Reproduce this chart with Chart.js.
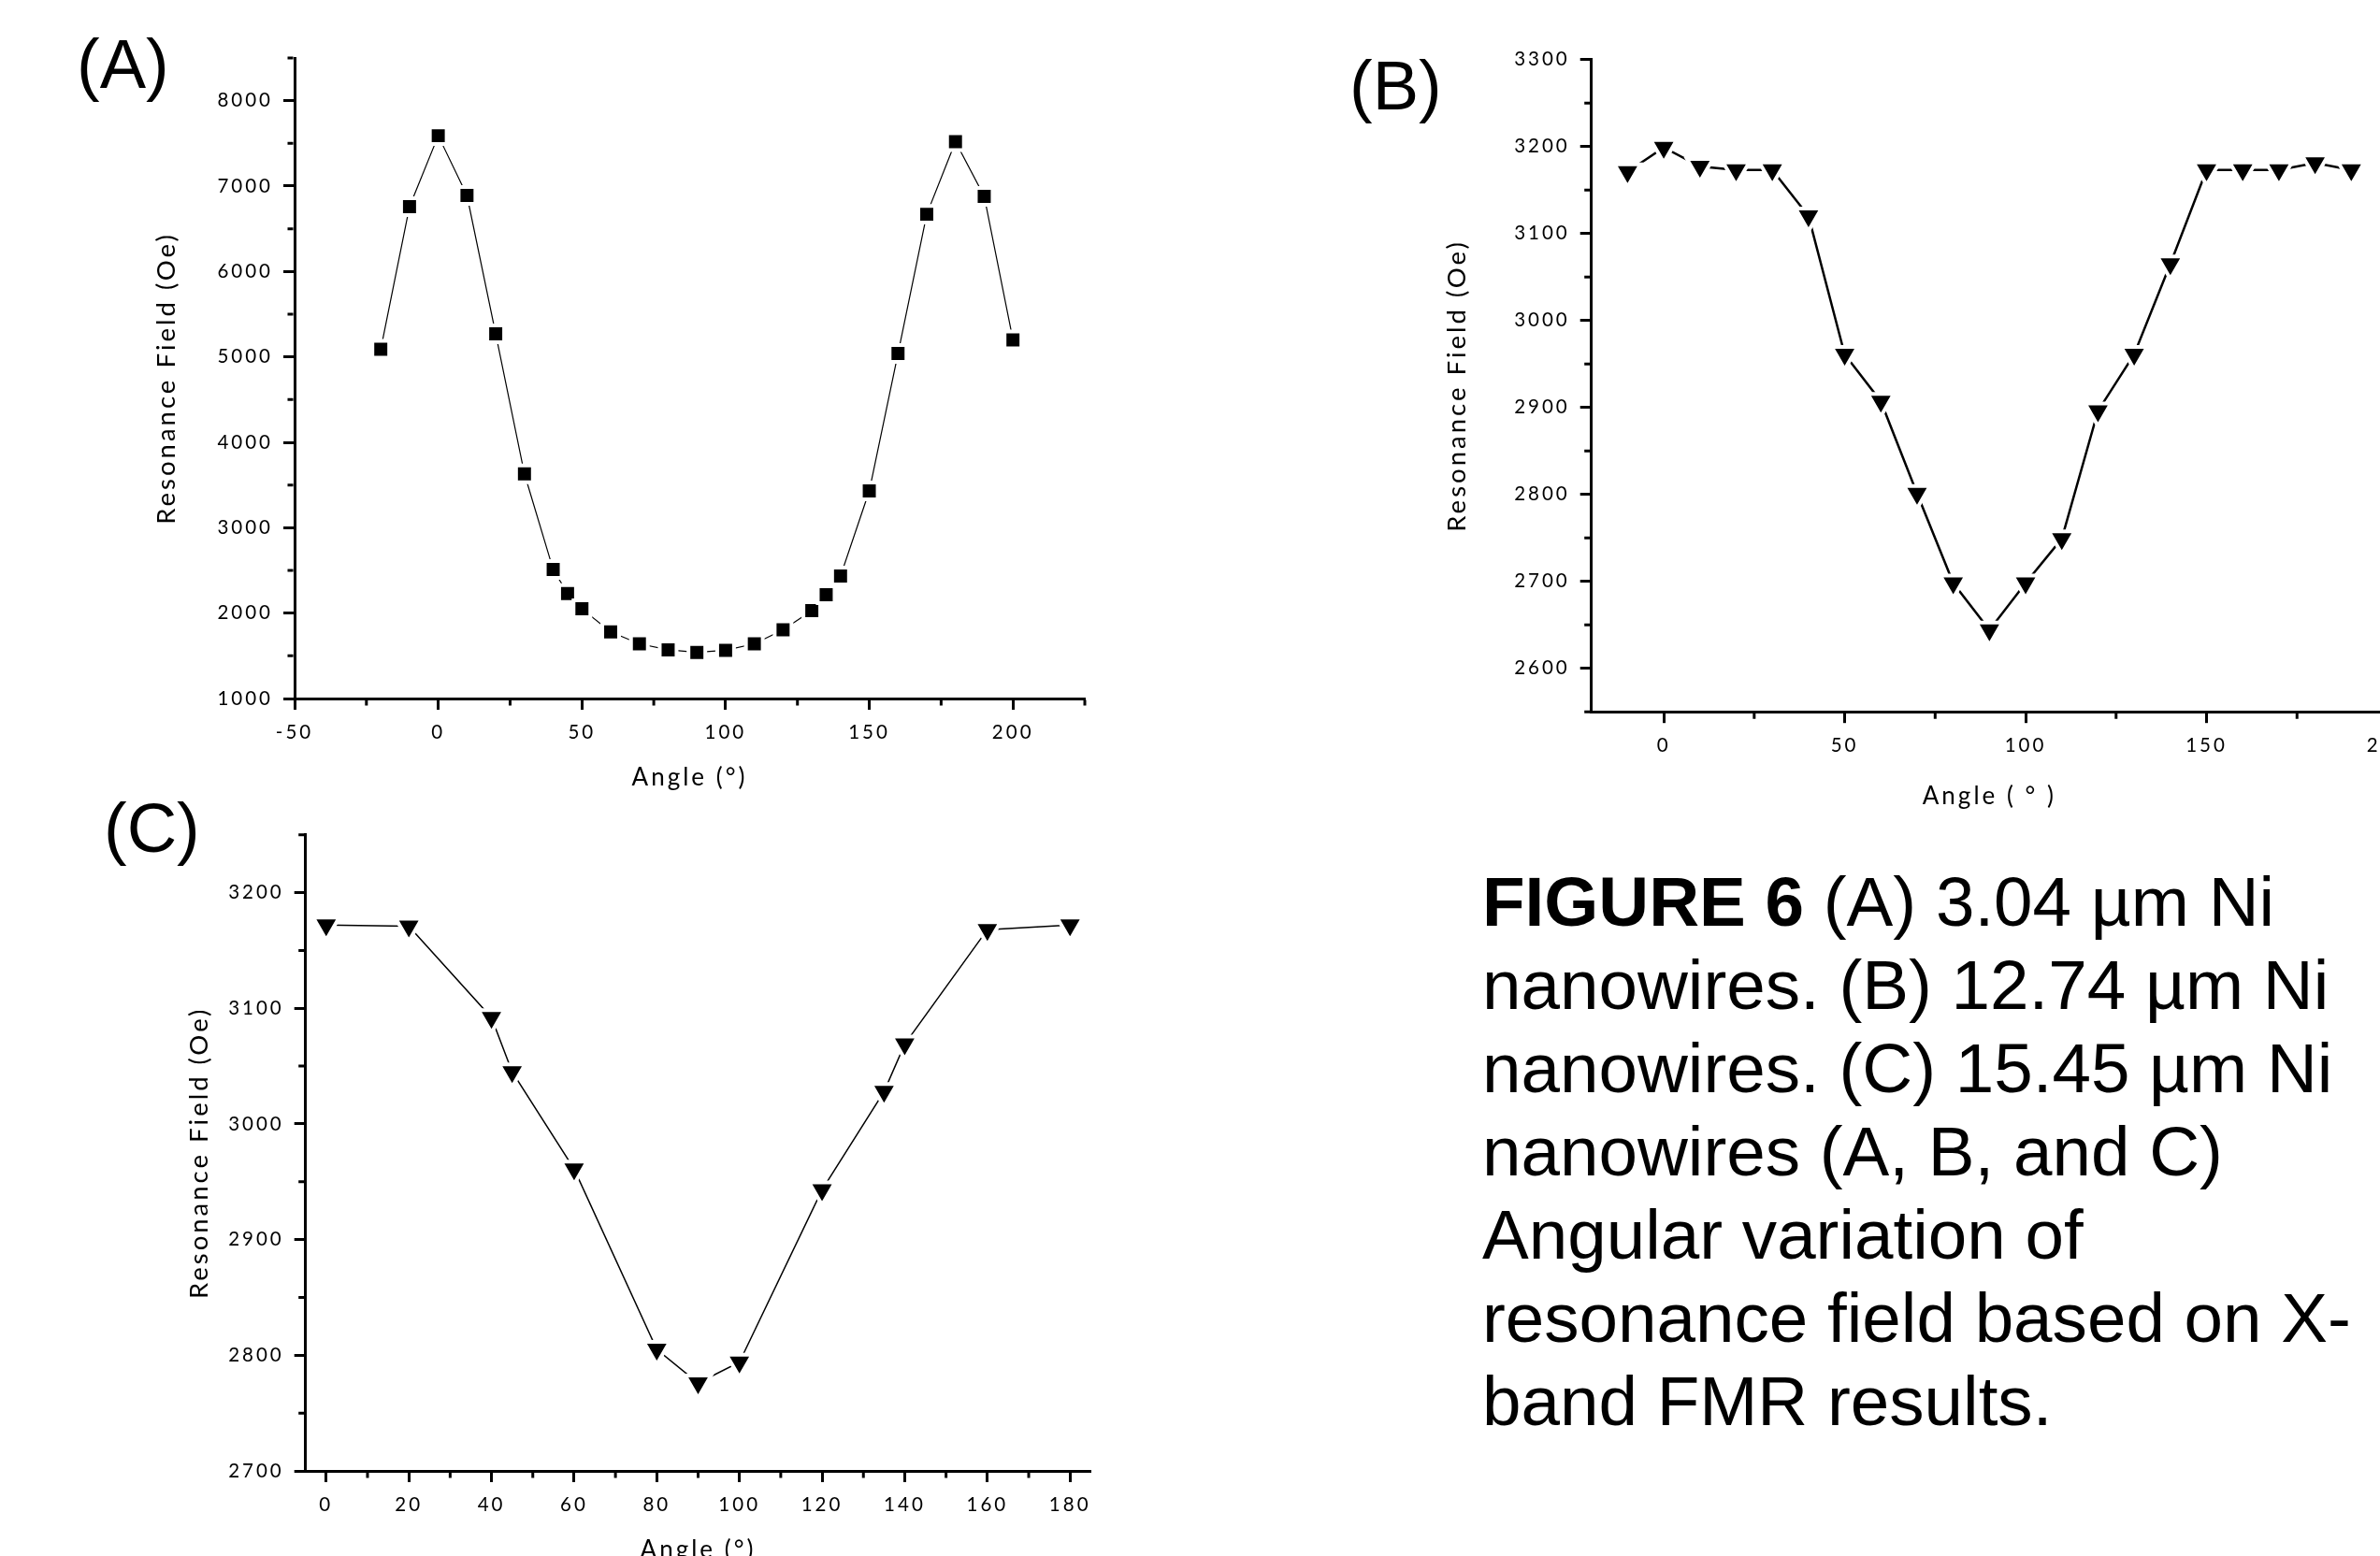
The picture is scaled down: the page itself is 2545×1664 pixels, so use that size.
<!DOCTYPE html>
<html>
<head>
<meta charset="utf-8">
<title>FMR resonance field vs angle</title>
<script src="https://cdn.jsdelivr.net/npm/chart.js@4.4.0/dist/chart.umd.min.js"></script>
<style>
  html, body { margin: 0; padding: 0; background: #fff; overflow: hidden; }
  #page { position: relative; width: 2545px; height: 1664px; overflow: hidden; background: #fff; }
  canvas { position: absolute; left: 0; top: 0; }
  .tag, #caption {
    position: absolute;
    font-family: "Liberation Sans", Arial, sans-serif;
    font-size: 74px;
    line-height: 89px;
    color: #000;
    white-space: nowrap;
  }
  #caption { font-size: 74.6px; }
</style>
</head>
<body>
<div id="page">
  <canvas id="chartA" width="2600" height="1700"></canvas>
  <canvas id="chartB" width="2600" height="1700"></canvas>
  <canvas id="chartC" width="2600" height="1700"></canvas>

  <div class="tag" style="left:82px; top:24px;">(A)</div>
  <div class="tag" style="left:1443px; top:47px;">(B)</div>
  <div class="tag" style="left:111px; top:841px;">(C)</div>

  <div id="caption" style="left:1585px; top:920px;"><b>FIGURE 6</b> (A) 3.04 µm Ni<br>nanowires. (B) 12.74 µm Ni<br>nanowires. (C) 15.45 µm Ni<br>nanowires (A, B, and C)<br>Angular variation of<br>resonance field based on X-<br>band FMR results.</div>
</div>

<script>
// (A) 3.04 µm wires
const anglesA = [-20, -10, 0, 10, 20, 30, 40, 45, 50, 60, 70, 80, 90, 100, 110, 120, 130, 135, 140, 150, 160, 170, 180, 190, 200];
const fieldA = [5090, 6760, 7590, 6890, 5270, 3630, 2510, 2230, 2050, 1780, 1640, 1570, 1540, 1565, 1640, 1805, 2030, 2215, 2435, 3430, 5040, 6670, 7520, 6880, 5200];
const xTicksA = [-50, 0, 50, 100, 150, 200];
const yTicksA = [1000, 2000, 3000, 4000, 5000, 6000, 7000, 8000];

// (B) 12.74 µm wires
const anglesB = [-10, 0, 10, 20, 30, 40, 50, 60, 70, 80, 90, 100, 110, 120, 130, 140, 150, 160, 170, 180, 190];
const fieldB = [3171, 3199, 3177, 3173, 3173, 3120, 2961, 2907, 2801, 2698, 2644, 2698, 2749, 2896, 2961, 3065, 3173, 3173, 3173, 3181, 3173];
const xTicksB = [0, 50, 100, 150, 200];
const yTicksB = [2600, 2700, 2800, 2900, 3000, 3100, 3200, 3300];

// (C) 15.45 µm wires
const anglesC = [0, 20, 40, 45, 60, 80, 90, 100, 120, 135, 140, 160, 180];
const fieldC = [3172, 3171, 3092, 3045, 2961, 2805, 2776, 2794, 2943, 3028, 3069, 3168, 3172];
const xTicksC = [0, 20, 40, 60, 80, 100, 120, 140, 160, 180];
const yTicksC = [2700, 2800, 2900, 3000, 3100, 3200];

const yTitle = 'Resonance Field (Oe)';

// spaced-out lettering like the Origin export
const spacing = {
  id: 'spacing',
  beforeDraw(chart) { chart.ctx.letterSpacing = '3px'; }
};

// short unlabelled ticks between the labelled ones
const minorTicks = {
  id: 'minorTicks',
  afterDraw(chart, args, opts) {
    const { ctx, chartArea, scales } = chart;
    const isMajor = (scale, v) => scale.ticks.some(t => Math.abs(t.value - v) < 1e-6);
    ctx.save();
    ctx.strokeStyle = '#000';
    ctx.lineWidth = 3;
    ctx.beginPath();
    const sx = scales.x;
    for (let k = Math.ceil(sx.min / opts.x); k * opts.x <= sx.max + 1e-6; k++) {
      const v = k * opts.x;
      if (isMajor(sx, v)) continue;
      const px = sx.getPixelForValue(v);
      ctx.moveTo(px, chartArea.bottom + 1.5);
      ctx.lineTo(px, chartArea.bottom + 7.5);
    }
    const sy = scales.y;
    for (let k = Math.ceil(sy.min / opts.y); k * opts.y <= sy.max + 1e-6; k++) {
      const v = k * opts.y;
      if (isMajor(sy, v)) continue;
      const py = sy.getPixelForValue(v);
      ctx.moveTo(chartArea.left - 1.5, py);
      ctx.lineTo(chartArea.left - 7.5, py);
    }
    ctx.stroke();
    ctx.restore();
  }
};

function axis(min, max, ticks, title, size, tickPad, fit) {
  return {
    type: 'linear',
    min: min,
    max: max,
    afterBuildTicks: s => { s.ticks = ticks.map(value => ({ value })); },
    afterFit: fit,
    grid: { display: true, drawOnChartArea: false, drawTicks: true, tickLength: 12, tickWidth: 3, tickColor: '#000' },
    border: { display: true, color: '#000', width: 3 },
    ticks: {
      color: '#000',
      font: { family: 'Lato', size: 20.5 },
      padding: tickPad,
      autoSkip: false,
      maxRotation: 0,
      callback: v => String(v)
    },
    title: { display: true, text: title, color: '#000', font: { family: 'Lato', size: size }, padding: 0 }
  };
}

function panel(id, xs, ys, look, scalesCfg, box) {
  new Chart(document.getElementById(id), {
    type: 'line',
    data: {
      datasets: [{
        data: xs.map((x, i) => ({ x: x, y: ys[i] })),
        borderColor: '#000',
        borderWidth: look.line,
        tension: 0,
        clip: false,
        pointStyle: look.marker,
        pointRotation: look.rotation,
        pointRadius: look.radius,
        pointBackgroundColor: '#000',
        pointBorderColor: '#fff',
        pointBorderWidth: 4
      }]
    },
    options: {
      responsive: false,
      animation: false,
      devicePixelRatio: 1,
      layout: { padding: box },
      scales: scalesCfg,
      plugins: {
        legend: { display: false },
        tooltip: { enabled: false },
        minorTicks: look.minor
      }
    },
    plugins: [spacing, minorTicks]
  });
}

panel('chartA', anglesA, fieldA,
  { line: 1.2, marker: 'rect', rotation: 0, radius: 12.7, minor: { x: 25, y: 500 } },
  {
    x: axis(-50, 225, xTicksA, 'Angle (°)', 26, 12, s => { s.height = 100.6; }),
    y: axis(1000, 8500, yTicksA, yTitle, 27.5, 11, s => { s.width = 153.4; })
  },
  { left: 161.6, right: 1440, top: 62, bottom: 852.4 });

panel('chartB', anglesB, fieldB,
  { line: 2.5, marker: 'triangle', rotation: 180, radius: 16, minor: { x: 25, y: 50 } },
  {
    x: axis(-20, 200, xTicksB, 'Angle ( ° )', 26, 12, s => { s.height = 106.4; }),
    y: axis(2550, 3300, yTicksB, yTitle, 27.5, 11, s => { s.width = 160.1; })
  },
  { left: 1541.6, right: 47, top: 63.7, bottom: 832.4 });

panel('chartC', anglesC, fieldC,
  { line: 1.5, marker: 'triangle', rotation: 180, radius: 16, minor: { x: 10, y: 50 } },
  {
    x: axis(-5, 185, xTicksC, 'Angle (°)', 26, 12, s => { s.height = 100.6; }),
    y: axis(2700, 3250, yTicksC, yTitle, 27.5, 11, s => { s.width = 130.1; })
  },
  { left: 196.6, right: 1433.7, top: 892.7, bottom: 26.4 });
</script>
</body>
</html>
